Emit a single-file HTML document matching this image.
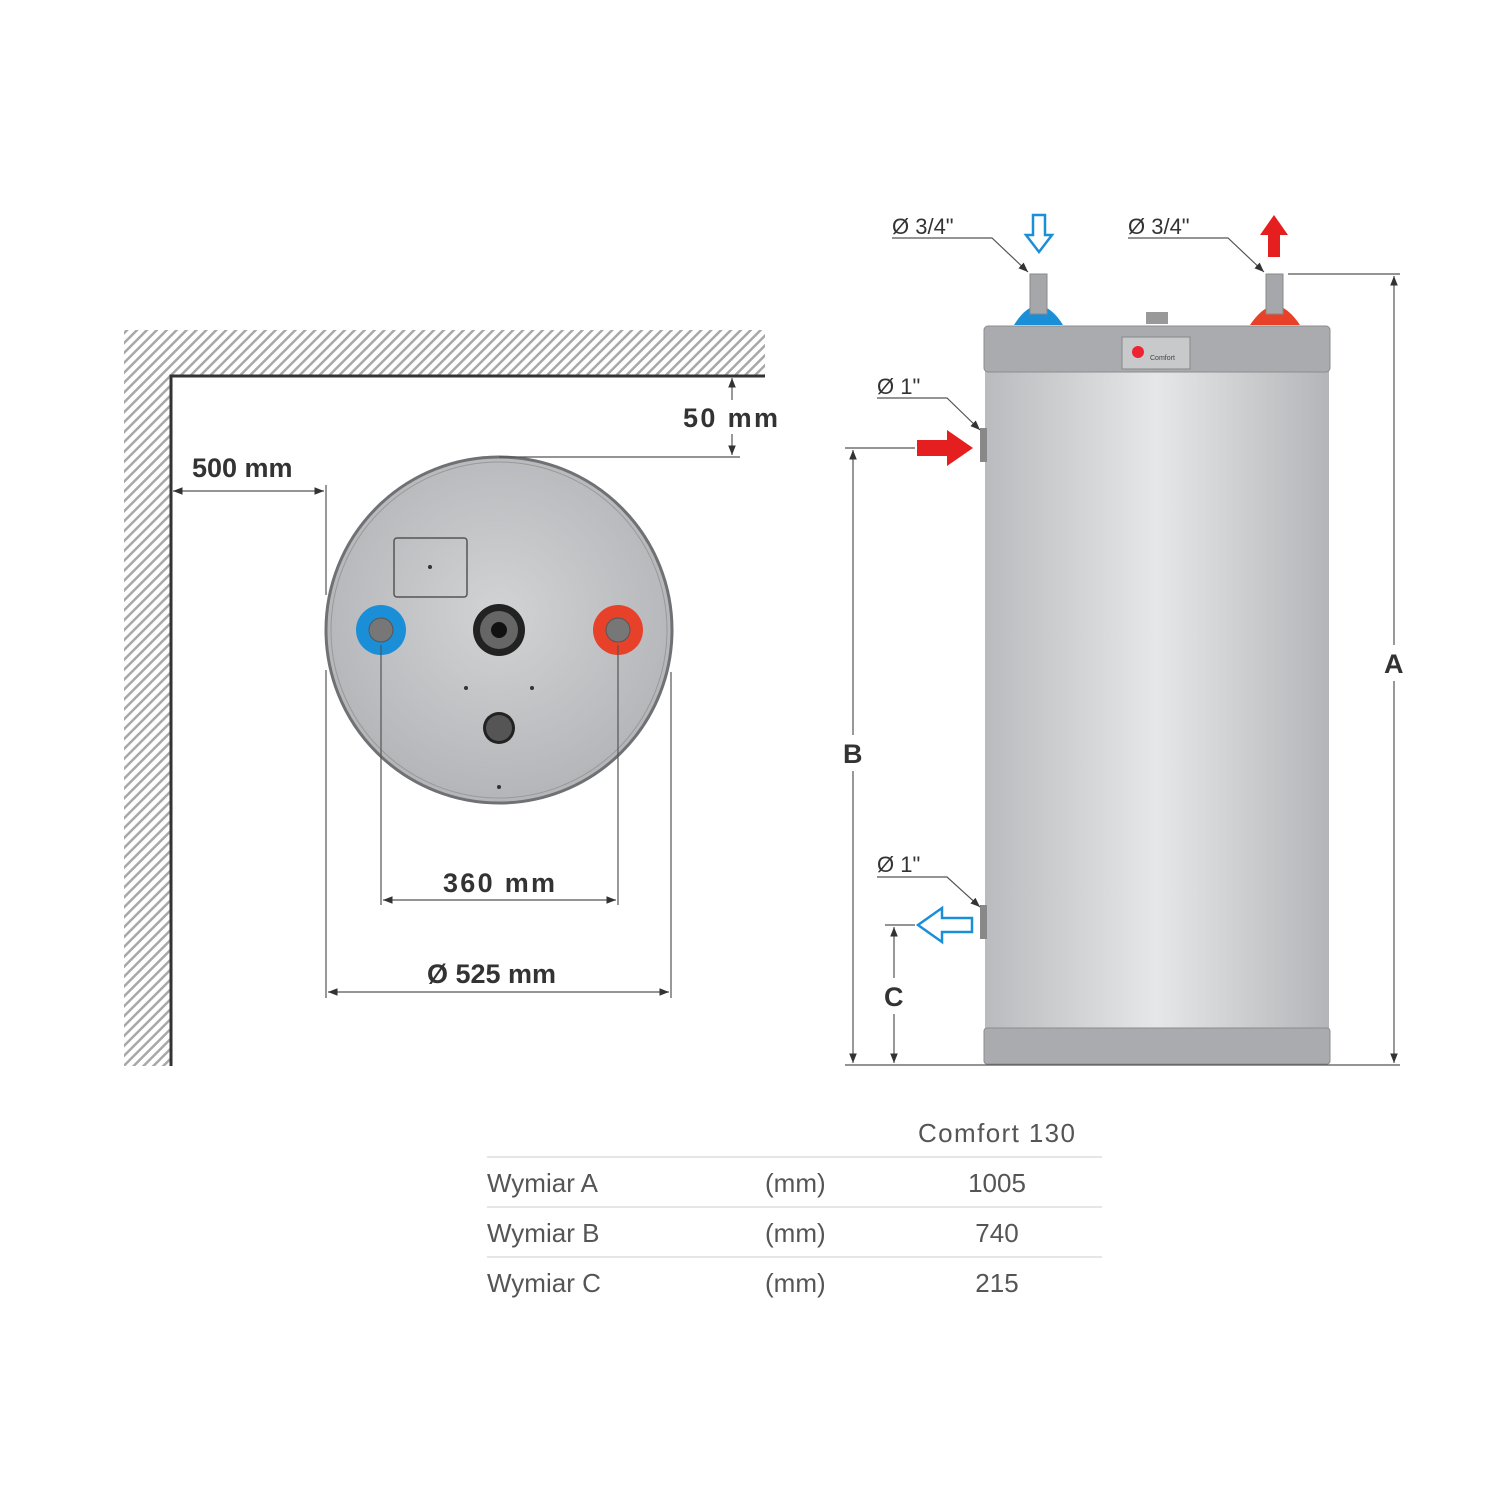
<!DOCTYPE html>
<html><head><meta charset="utf-8"><style>
html,body{margin:0;padding:0;background:#fff;width:1500px;height:1500px;overflow:hidden}
svg text{font-family:"Liberation Sans",sans-serif}
</style></head><body>
<svg width="1500" height="1500" viewBox="0 0 1500 1500" xmlns="http://www.w3.org/2000/svg">
<defs>
<pattern id="h" width="7" height="7" patternUnits="userSpaceOnUse" patternTransform="rotate(45)">
<rect width="7" height="7" fill="#fff"/><rect width="2.5" height="7" fill="#a8a8a8"/></pattern>
<radialGradient id="cg" cx="0.5" cy="0.45" r="0.55"><stop offset="0" stop-color="#d2d3d5"/><stop offset="1" stop-color="#b3b5b8"/></radialGradient>
<linearGradient id="tg" x1="0" x2="1"><stop offset="0" stop-color="#b9bbbe"/><stop offset="0.5" stop-color="#e6e7e8"/><stop offset="1" stop-color="#b3b5b8"/></linearGradient>
<marker id="a" viewBox="0 0 10 10" refX="10" refY="5" markerWidth="8" markerHeight="8" orient="auto-start-reverse"><path d="M0,1 L10,5 L0,9z" fill="#333"/></marker>
</defs>
<path d="M124,330 H765 V376 H171 V1066 H124z" fill="url(#h)"/>
<path d="M171,1066 V376 H765" fill="none" stroke="#333" stroke-width="3"/>
<circle cx="499" cy="630" r="173" fill="url(#cg)" stroke="#6f7174" stroke-width="3"/>
<circle cx="499" cy="630" r="168" fill="none" stroke="#999" stroke-width="1"/>
<rect x="394" y="538" width="73" height="59" rx="3" fill="none" stroke="#555" stroke-width="1.5"/>
<circle cx="430" cy="567" r="2" fill="#333"/>
<circle cx="381" cy="630" r="25" fill="#1a8fd8"/><circle cx="381" cy="630" r="12" fill="#777" stroke="#555"/>
<circle cx="618" cy="630" r="25" fill="#e8412a"/><circle cx="618" cy="630" r="12" fill="#777" stroke="#555"/>
<circle cx="499" cy="630" r="26" fill="#222"/><circle cx="499" cy="630" r="19" fill="#666"/><circle cx="499" cy="630" r="8" fill="#111"/>
<circle cx="499" cy="728" r="16" fill="#222"/><circle cx="499" cy="728" r="13" fill="#555"/>
<circle cx="466" cy="688" r="2" fill="#333"/><circle cx="532" cy="688" r="2" fill="#333"/><circle cx="499" cy="787" r="2" fill="#333"/>
<g stroke="#555" stroke-width="1.2" fill="none">
<line x1="499" y1="457" x2="740" y2="457"/>
<line x1="732" y1="378" x2="732" y2="455" marker-start="url(#a)" marker-end="url(#a)"/>
<line x1="326" y1="485" x2="326" y2="595"/>
<line x1="173" y1="491" x2="324" y2="491" marker-start="url(#a)" marker-end="url(#a)"/>
<line x1="381" y1="645" x2="381" y2="905"/><line x1="618" y1="645" x2="618" y2="905"/>
<line x1="383" y1="900" x2="616" y2="900" marker-start="url(#a)" marker-end="url(#a)"/>
<line x1="326" y1="670" x2="326" y2="998"/><line x1="671" y1="672" x2="671" y2="998"/>
<line x1="328" y1="992" x2="669" y2="992" marker-start="url(#a)" marker-end="url(#a)"/>
</g>
<rect x="700" y="400" width="70" height="34" fill="#fff"/>
<g font-size="27" font-weight="bold" fill="#333">
<text x="683" y="427" textLength="95">50 mm</text><text x="192" y="477">500 mm</text>
<text x="443" y="892" textLength="112">360 mm</text><text x="427" y="983">Ø 525 mm</text>
</g>
<rect x="985" y="370" width="344" height="662" fill="url(#tg)"/>
<rect x="984" y="326" width="346" height="46" rx="4" fill="#a9abae" stroke="#8a8c8f"/>
<rect x="984" y="1028" width="346" height="36" rx="3" fill="#a9abae" stroke="#8a8c8f"/>
<rect x="1122" y="337" width="68" height="32" fill="#c8c9cb" stroke="#888"/>
<circle cx="1138" cy="352" r="6" fill="#e23"/>
<text x="1150" y="360" font-size="7" fill="#444">Comfort</text>
<rect x="1146" y="312" width="22" height="12" fill="#999"/>
<path d="M1014,325 Q1025,307 1038,305 Q1052,307 1063,325z" fill="#1a8fd8"/>
<rect x="1030" y="274" width="17" height="40" fill="#a5a7aa" stroke="#888"/>
<path d="M1250,325 Q1262,307 1275,305 Q1288,307 1300,325z" fill="#e8412a"/>
<rect x="1266" y="274" width="17" height="40" fill="#a5a7aa" stroke="#888"/>
<rect x="980" y="428" width="7" height="34" fill="#888"/>
<rect x="980" y="905" width="7" height="34" fill="#888"/>
<path d="M1033,215 h12 v20 h7 l-13,17 l-13,-17 h7z" fill="#fff" stroke="#1a8fd8" stroke-width="2.5"/>
<path d="M1268,257 v-22 h-8 l14,-20 l14,20 h-8 v22z" fill="#e51f1f"/>
<path d="M917,440 h30 v-10 l26,18 l-26,18 v-10 h-30z" fill="#e51f1f"/>
<path d="M972,918 h-30 v-10 l-24,17 l24,17 v-10 h30z" fill="#fff" stroke="#1a8fd8" stroke-width="2.5"/>
<g stroke="#555" stroke-width="1.2" fill="none">
<polyline points="892,238 992,238 1028,272" marker-end="url(#a)"/>
<polyline points="1128,238 1228,238 1264,272" marker-end="url(#a)"/>
<polyline points="877,398 947,398 980,430" marker-end="url(#a)"/>
<polyline points="877,877 947,877 980,907" marker-end="url(#a)"/>
<line x1="1288" y1="274" x2="1400" y2="274"/>
<line x1="1394" y1="276" x2="1394" y2="1063" marker-start="url(#a)" marker-end="url(#a)"/>
<line x1="845" y1="448" x2="915" y2="448"/>
<line x1="853" y1="450" x2="853" y2="1063" marker-start="url(#a)" marker-end="url(#a)"/>
<line x1="885" y1="925" x2="915" y2="925"/>
<line x1="894" y1="927" x2="894" y2="1063" marker-start="url(#a)" marker-end="url(#a)"/>
<line x1="845" y1="1065" x2="1400" y2="1065"/>
</g>
<g font-size="22" fill="#333">
<text x="892" y="234">Ø 3/4"</text><text x="1128" y="234">Ø 3/4"</text>
<text x="877" y="394">Ø 1"</text><text x="877" y="872">Ø 1"</text>
</g>
<g fill="#fff"><rect x="1382" y="645" width="24" height="36"/><rect x="841" y="735" width="24" height="36"/><rect x="882" y="978" width="24" height="36"/></g>
<g font-size="27" font-weight="bold" fill="#333">
<text x="1384" y="673">A</text><text x="843" y="763">B</text><text x="884" y="1006">C</text>
</g>
<g font-size="26" fill="#555">
<text x="918" y="1142" textLength="157">Comfort 130</text>
<text x="487" y="1192">Wymiar A</text><text x="765" y="1192">(mm)</text><text x="997" y="1192" text-anchor="middle">1005</text>
<text x="487" y="1242">Wymiar B</text><text x="765" y="1242">(mm)</text><text x="997" y="1242" text-anchor="middle">740</text>
<text x="487" y="1292">Wymiar C</text><text x="765" y="1292">(mm)</text><text x="997" y="1292" text-anchor="middle">215</text>
</g>
<g stroke="#ddd" stroke-width="1.5">
<line x1="487" y1="1157" x2="1102" y2="1157"/><line x1="487" y1="1207" x2="1102" y2="1207"/><line x1="487" y1="1257" x2="1102" y2="1257"/>
</g>
</svg>
</body></html>
